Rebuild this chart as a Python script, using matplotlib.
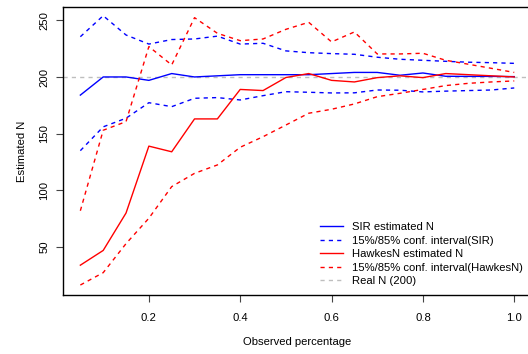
import numpy as np
import matplotlib
matplotlib.use("Agg")
import matplotlib.pyplot as plt
from matplotlib.lines import Line2D

plt.rcParams['font.family'] = ['Liberation Sans', 'DejaVu Sans']

# observed percentage
obs = [0.05, 0.10, 0.15, 0.20, 0.25, 0.30, 0.35, 0.40, 0.45, 0.50,
       0.55, 0.60, 0.65, 0.70, 0.75, 0.80, 0.85, 0.90, 0.95, 1.00]

sir_est = [184, 200, 200, 197, 203, 200, 201, 202, 202, 202,
           202, 203, 204, 204, 201.5, 203.5, 200.6, 200.5, 200.5, 200.3]
sir_hi = [235.5, 254, 237, 229, 233, 233.5, 236, 229, 229.7, 223,
          221.4, 220.6, 220, 217.4, 215.6, 214.7, 213.8, 213, 212.6, 212]
sir_lo = [135, 156, 163.6, 177.3, 173.8, 181.2, 181.8, 179.7, 183.5, 187,
          186.5, 185.9, 186, 188.5, 188.3, 186.8, 187.5, 188, 188.5, 190.3]

hawkes_est = [34, 47, 80, 139, 134, 163, 163, 189, 188, 199.5,
              203, 197, 195.6, 199.4, 201, 199.4, 203, 202, 201, 200]
hawkes_hi = [82, 153, 160.6, 226.8, 210.6, 252.3, 238.5, 232, 233.5, 242,
             248.2, 230.9, 239.7, 220.3, 220.3, 220.9, 214.7, 211.2, 207.6, 204]
hawkes_lo = [16.5, 27.4, 53, 75.4, 103.3, 115, 122.4, 138, 147.3, 157.6,
             168, 171.5, 176.2, 182.6, 185.6, 189, 192.4, 194.4, 195.6, 196.5]

real_n = 200
fs = 8.15

fig = plt.figure(figsize=(5.28, 3.54), dpi=100)
ax = fig.add_axes([63/528, 59/354, 468.6/528, 288/354])

ax.axhline(real_n, color='#BEBEBE', lw=1, dashes=(3, 3))
ax.plot(obs, sir_est, color='blue', lw=1)
ax.plot(obs, sir_hi, color='blue', lw=1, dashes=(3, 3))
ax.plot(obs, sir_lo, color='blue', lw=1, dashes=(3, 3))
ax.plot(obs, hawkes_est, color='red', lw=1)
ax.plot(obs, hawkes_hi, color='red', lw=1, dashes=(3, 3))
ax.plot(obs, hawkes_lo, color='red', lw=1, dashes=(3, 3))

ax.set_xlim(0.012, 1.038)
ax.set_ylim(7.7, 261.7)
ax.set_xticks([0.2, 0.4, 0.6, 0.8, 1.0])
ax.set_xticklabels(['0.2', '0.4', '0.6', '0.8', '1.0'])
ax.set_yticks([50, 100, 150, 200, 250])
ax.tick_params(labelsize=fs, length=5, width=0.8, color='#444444')
ax.tick_params(axis='x', pad=8)
ax.tick_params(axis='y', pad=5)
for lab in ax.get_yticklabels():
    lab.set_rotation(90)
    lab.set_va('center')
for sp in ax.spines.values():
    sp.set_linewidth(1)
ax.set_xlabel('Observed percentage', fontsize=fs, labelpad=10)
ax.set_ylabel('Estimated N', fontsize=fs, labelpad=9)

handles = [
    Line2D([], [], color='blue', lw=1),
    Line2D([], [], color='blue', lw=1, dashes=(3, 3)),
    Line2D([], [], color='red', lw=1),
    Line2D([], [], color='red', lw=1, dashes=(3, 3)),
    Line2D([], [], color='#BEBEBE', lw=1, dashes=(3, 3)),
]
labels = ['SIR estimated N', '15%/85% conf. interval(SIR)',
          'HawkesN estimated N', '15%/85% conf. interval(HawkesN)',
          'Real N (200)']
fig.legend(handles, labels, loc='upper left', bbox_to_anchor=(320/528, 1 - 222/354),
           frameon=False, fontsize=fs, handlelength=2.0, handletextpad=0.85,
           labelspacing=0.31, borderpad=0, borderaxespad=0)

fig.savefig('out.png', dpi=100)
